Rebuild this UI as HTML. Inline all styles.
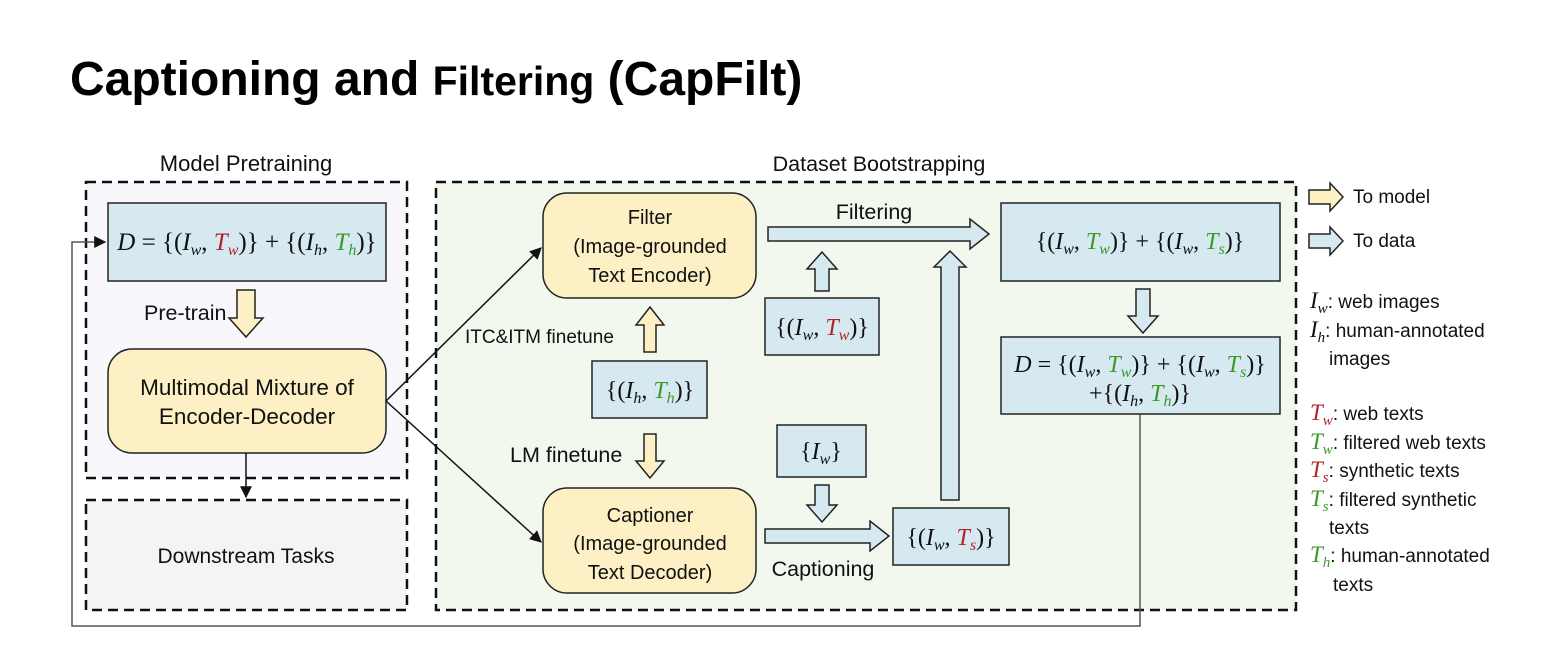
<!DOCTYPE html>
<html><head><meta charset="utf-8"><style>
html,body{margin:0;padding:0;background:#fff;width:1565px;height:648px;overflow:hidden}
svg{display:block}
.s{font-family:"Liberation Sans",sans-serif;font-size:19px;fill:#111}
.m{font-family:"Liberation Serif",serif;font-size:24px;fill:#111}
.i{font-style:italic}
.r{fill:#b0242a}.g{fill:#3a9a2a}
</style></head><body>
<svg width="1565" height="648" viewBox="0 0 1565 648" xmlns="http://www.w3.org/2000/svg">
<defs><marker id="ah" viewBox="0 0 10 10" refX="9" refY="5" markerWidth="8" markerHeight="8" orient="auto"><path d="M0,0 L10,5 L0,10 z" fill="#111"/></marker></defs>
<text x="70" y="95" font-family="Liberation Sans,sans-serif" font-weight="bold" font-size="48" fill="#000">Captioning and <tspan font-size="41">Filtering</tspan> (CapFilt)</text>

<text x="246" y="171" class="s" style="font-size:22px" text-anchor="middle">Model Pretraining</text>
<text x="879" y="171" class="s" style="font-size:21.5px" text-anchor="middle">Dataset Bootstrapping</text>

<rect x="86" y="182" width="321" height="296" fill="#f8f7fb" stroke="#111" stroke-width="2.5" stroke-dasharray="10,6"/>
<rect x="86" y="500" width="321" height="110" fill="#f4f4f4" stroke="#111" stroke-width="2.5" stroke-dasharray="10,6"/>
<rect x="436" y="182" width="860" height="428" fill="#f3f8ee" stroke="#111" stroke-width="2.5" stroke-dasharray="10,6"/>

<polyline points="1140,414 1140,626 72,626 72,242 105,242" fill="none" stroke="#555" stroke-width="1.5" marker-end="url(#ah)"/>

<rect x="108" y="203" width="278" height="78" fill="#d6e9f0" stroke="#222" stroke-width="1.5"/>
<text x="247" y="250" class="m" style="font-size:25px" text-anchor="middle"><tspan class="i">D</tspan> = {(<tspan class="i">I</tspan><tspan class="i" style="font-size:16px" dy="5">w</tspan><tspan dy="-5">, </tspan><tspan class="i r">T</tspan><tspan class="i r" style="font-size:16px" dy="5">w</tspan><tspan dy="-5">)} + {(</tspan><tspan class="i">I</tspan><tspan class="i" style="font-size:16px" dy="5">h</tspan><tspan dy="-5">, </tspan><tspan class="i g">T</tspan><tspan class="i g" style="font-size:16px" dy="5">h</tspan><tspan dy="-5">)}</tspan></text>

<text x="144" y="320" class="s" style="font-size:21.5px">Pre-train</text>
<polygon points="237,290 255,290 255,318 263,318 246,337 229,318 237,318" fill="#fdf0c4" stroke="#222" stroke-width="1.5"/>

<rect x="108" y="349" width="278" height="104" rx="24" fill="#fdf0c4" stroke="#222" stroke-width="1.5"/>
<text x="247" y="395" class="s" style="font-size:22.5px" text-anchor="middle">Multimodal Mixture of</text>
<text x="247" y="424" class="s" style="font-size:22.5px" text-anchor="middle">Encoder-Decoder</text>
<line x1="246" y1="453" x2="246" y2="497" stroke="#111" stroke-width="1.5" marker-end="url(#ah)"/>
<text x="246" y="563" class="s" style="font-size:21px" text-anchor="middle">Downstream Tasks</text>

<line x1="386" y1="401" x2="541" y2="248" stroke="#111" stroke-width="1.5" marker-end="url(#ah)"/>
<line x1="386" y1="401" x2="541" y2="542" stroke="#111" stroke-width="1.5" marker-end="url(#ah)"/>

<rect x="543" y="193" width="213" height="105" rx="24" fill="#fdf0c4" stroke="#222" stroke-width="1.5"/>
<text x="650" y="224" class="s" style="font-size:20px" text-anchor="middle">Filter</text>
<text x="650" y="253" class="s" style="font-size:20px" text-anchor="middle">(Image-grounded</text>
<text x="650" y="282" class="s" style="font-size:20px" text-anchor="middle">Text Encoder)</text>

<rect x="543" y="488" width="213" height="105" rx="24" fill="#fdf0c4" stroke="#222" stroke-width="1.5"/>
<text x="650" y="522" class="s" style="font-size:20px" text-anchor="middle">Captioner</text>
<text x="650" y="550" class="s" style="font-size:20px" text-anchor="middle">(Image-grounded</text>
<text x="650" y="579" class="s" style="font-size:20px" text-anchor="middle">Text Decoder)</text>

<text x="465" y="343" class="s">ITC&amp;ITM finetune</text>
<polygon points="644,352 656,352 656,325 664,325 650,307 636,325 644,325" fill="#fdf0c4" stroke="#222" stroke-width="1.5"/>
<rect x="592" y="361" width="115" height="57" fill="#d6e9f0" stroke="#222" stroke-width="1.5"/>
<text x="650" y="398" class="m" text-anchor="middle">{(<tspan class="i">I</tspan><tspan class="i" style="font-size:16px" dy="5">h</tspan><tspan dy="-5">, </tspan><tspan class="i g">T</tspan><tspan class="i g" style="font-size:16px" dy="5">h</tspan><tspan dy="-5">)}</tspan></text>
<text x="510" y="462" class="s" style="font-size:21.5px">LM finetune</text>
<polygon points="644,434 656,434 656,461 664,461 650,478 636,461 644,461" fill="#fdf0c4" stroke="#222" stroke-width="1.5"/>

<text x="874" y="219" class="s" style="font-size:21.5px" text-anchor="middle">Filtering</text>
<polygon points="768,227 970,227 970,219 989,234 970,249 970,241 768,241" fill="#d6e9f0" stroke="#222" stroke-width="1.5"/>
<polygon points="815,291 829,291 829,269 837,269 822,252 807,269 815,269" fill="#d6e9f0" stroke="#222" stroke-width="1.5"/>
<rect x="765" y="298" width="114" height="57" fill="#d6e9f0" stroke="#222" stroke-width="1.5"/>
<text x="822" y="335" class="m" text-anchor="middle">{(<tspan class="i">I</tspan><tspan class="i" style="font-size:16px" dy="5">w</tspan><tspan dy="-5">, </tspan><tspan class="i r">T</tspan><tspan class="i r" style="font-size:16px" dy="5">w</tspan><tspan dy="-5">)}</tspan></text>

<rect x="777" y="425" width="89" height="52" fill="#d6e9f0" stroke="#222" stroke-width="1.5"/>
<text x="821" y="459" class="m" text-anchor="middle">{<tspan class="i">I</tspan><tspan class="i" style="font-size:16px" dy="5">w</tspan><tspan dy="-5">}</tspan></text>
<polygon points="815,485 829,485 829,505 837,505 822,522 807,505 815,505" fill="#d6e9f0" stroke="#222" stroke-width="1.5"/>

<polygon points="765,529 870,529 870,521 889,536 870,551 870,543 765,543" fill="#d6e9f0" stroke="#222" stroke-width="1.5"/>
<text x="823" y="576" class="s" style="font-size:21.5px" text-anchor="middle">Captioning</text>
<rect x="893" y="508" width="116" height="57" fill="#d6e9f0" stroke="#222" stroke-width="1.5"/>
<text x="951" y="545" class="m" text-anchor="middle">{(<tspan class="i">I</tspan><tspan class="i" style="font-size:16px" dy="5">w</tspan><tspan dy="-5">, </tspan><tspan class="i r">T</tspan><tspan class="i r" style="font-size:16px" dy="5">s</tspan><tspan dy="-5">)}</tspan></text>
<polygon points="941,500 959,500 959,267 966,267 950,251 934,267 941,267" fill="#d6e9f0" stroke="#222" stroke-width="1.5"/>

<rect x="1001" y="203" width="279" height="78" fill="#d6e9f0" stroke="#222" stroke-width="1.5"/>
<text x="1140" y="249" class="m" text-anchor="middle">{(<tspan class="i">I</tspan><tspan class="i" style="font-size:16px" dy="5">w</tspan><tspan dy="-5">, </tspan><tspan class="i g">T</tspan><tspan class="i g" style="font-size:16px" dy="5">w</tspan><tspan dy="-5">)} + {(</tspan><tspan class="i">I</tspan><tspan class="i" style="font-size:16px" dy="5">w</tspan><tspan dy="-5">, </tspan><tspan class="i g">T</tspan><tspan class="i g" style="font-size:16px" dy="5">s</tspan><tspan dy="-5">)}</tspan></text>
<polygon points="1136,289 1150,289 1150,316 1158,316 1143,333 1128,316 1136,316" fill="#d6e9f0" stroke="#222" stroke-width="1.5"/>
<rect x="1001" y="337" width="279" height="77" fill="#d6e9f0" stroke="#222" stroke-width="1.5"/>
<text x="1140" y="372" class="m" text-anchor="middle"><tspan class="i">D</tspan> = {(<tspan class="i">I</tspan><tspan class="i" style="font-size:16px" dy="5">w</tspan><tspan dy="-5">, </tspan><tspan class="i g">T</tspan><tspan class="i g" style="font-size:16px" dy="5">w</tspan><tspan dy="-5">)} + {(</tspan><tspan class="i">I</tspan><tspan class="i" style="font-size:16px" dy="5">w</tspan><tspan dy="-5">, </tspan><tspan class="i g">T</tspan><tspan class="i g" style="font-size:16px" dy="5">s</tspan><tspan dy="-5">)}</tspan></text>
<text x="1140" y="401" class="m" text-anchor="middle">+{(<tspan class="i">I</tspan><tspan class="i" style="font-size:16px" dy="5">h</tspan><tspan dy="-5">, </tspan><tspan class="i g">T</tspan><tspan class="i g" style="font-size:16px" dy="5">h</tspan><tspan dy="-5">)}</tspan></text>

<polygon points="1309,190 1330,190 1330,183 1343,197 1330,211 1330,204 1309,204" fill="#fdf0c4" stroke="#222" stroke-width="1.5"/>
<text x="1353" y="203" class="s">To model</text>
<polygon points="1309,234 1330,234 1330,227 1343,241 1330,255 1330,248 1309,248" fill="#d6e9f0" stroke="#222" stroke-width="1.5"/>
<text x="1353" y="247" class="s">To data</text>

<g class="s">
<text x="1310" y="308"><tspan class="i" style="font-family:'Liberation Serif',serif;font-size:23px">I</tspan><tspan class="i" style="font-family:'Liberation Serif',serif;font-size:15px" dy="5">w</tspan><tspan dy="-5">: web images</tspan></text>
<text x="1310" y="337"><tspan class="i" style="font-family:'Liberation Serif',serif;font-size:23px">I</tspan><tspan class="i" style="font-family:'Liberation Serif',serif;font-size:15px" dy="5">h</tspan><tspan dy="-5">: human-annotated</tspan></text>
<text x="1329" y="365">images</text>
<text x="1310" y="420"><tspan class="i r" style="font-family:'Liberation Serif',serif;font-size:23px">T</tspan><tspan class="i r" style="font-family:'Liberation Serif',serif;font-size:15px" dy="5">w</tspan><tspan dy="-5">: web texts</tspan></text>
<text x="1310" y="449"><tspan class="i g" style="font-family:'Liberation Serif',serif;font-size:23px">T</tspan><tspan class="i g" style="font-family:'Liberation Serif',serif;font-size:15px" dy="5">w</tspan><tspan dy="-5">: filtered web texts</tspan></text>
<text x="1310" y="477"><tspan class="i r" style="font-family:'Liberation Serif',serif;font-size:23px">T</tspan><tspan class="i r" style="font-family:'Liberation Serif',serif;font-size:15px" dy="5">s</tspan><tspan dy="-5">: synthetic texts</tspan></text>
<text x="1310" y="506"><tspan class="i g" style="font-family:'Liberation Serif',serif;font-size:23px">T</tspan><tspan class="i g" style="font-family:'Liberation Serif',serif;font-size:15px" dy="5">s</tspan><tspan dy="-5">: filtered synthetic</tspan></text>
<text x="1329" y="534">texts</text>
<text x="1310" y="562"><tspan class="i g" style="font-family:'Liberation Serif',serif;font-size:23px">T</tspan><tspan class="i g" style="font-family:'Liberation Serif',serif;font-size:15px" dy="5">h</tspan><tspan dy="-5">: human-annotated</tspan></text>
<text x="1333" y="591">texts</text>
</g>
</svg>
</body></html>
